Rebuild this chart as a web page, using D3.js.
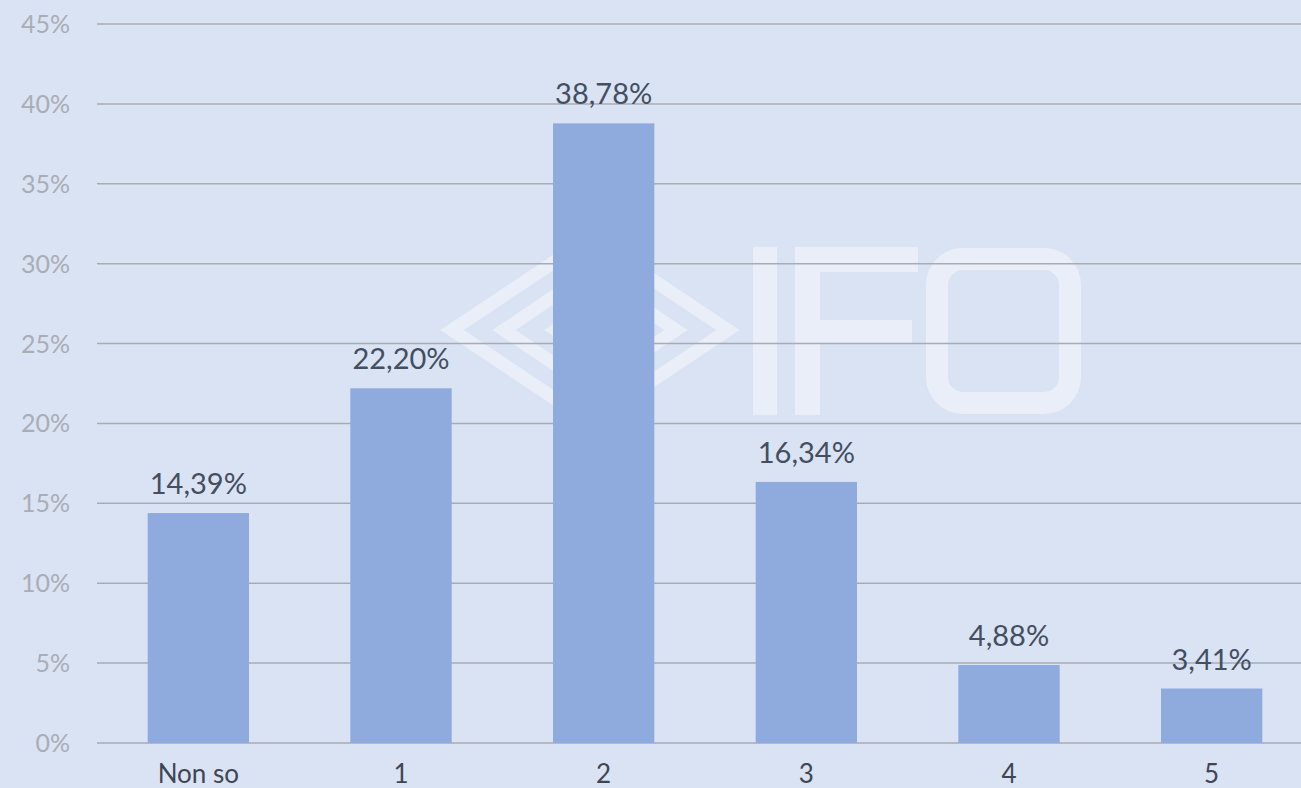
<!DOCTYPE html>
<html>
<head>
<meta charset="utf-8">
<script src="https://cdn.jsdelivr.net/npm/d3@7"></script>
<style>
  html, body { margin: 0; padding: 0; background: #dae3f3; overflow: hidden; }
  svg { display: block; }
</style>
</head>
<body>
<script>
// chart data
var categories = ["Non so", "1", "2", "3", "4", "5"];
var values = [14.39, 22.20, 38.78, 16.34, 4.88, 3.41];
var tickValues = [0, 5, 10, 15, 20, 25, 30, 35, 40, 45];

var width = 1301
  , height = 788
  , plotLeft = 97
  , plotTop = 24
  , plotBottom = 743;

var svg = d3.select("body").append("svg")
    .attr("width", width)
    .attr("height", height);

svg.append("rect")
    .attr("width", width)
    .attr("height", height)
    .attr("fill", "#dae3f3");

// scales
var x = d3.scaleBand()
    .domain(categories)
    .range([plotLeft, plotLeft + 1216])
    .paddingInner(0.5)
    .paddingOuter(0.25);

var y = d3.scaleLinear()
    .domain([0, 45])
    .range([plotBottom, plotTop]);

// watermark logo, drawn behind everything
var wm = svg.append("g")
    .attr("fill", "none")
    .attr("stroke", "#ffffff")
    .attr("stroke-opacity", 0.4);

var cx = 590, cy = 330;
[[138, 92], [86, 58], [34, 23]].forEach(function(r){
  wm.append("path")
    .attr("stroke-width", 13)
    .attr("d", "M" + (cx - r[0]) + "," + cy + "L" + cx + "," + (cy - r[1]) +
               "L" + (cx + r[0]) + "," + cy + "L" + cx + "," + (cy + r[1]) + "Z");
});

var letters = svg.append("g")
    .attr("fill", "#ffffff")
    .attr("fill-opacity", 0.4);
// I
letters.append("rect").attr("x", 753).attr("y", 247).attr("width", 24).attr("height", 168);
// F
letters.append("rect").attr("x", 795).attr("y", 247).attr("width", 25).attr("height", 168);
letters.append("rect").attr("x", 820).attr("y", 247).attr("width", 98).attr("height", 25);
letters.append("rect").attr("x", 820).attr("y", 320).attr("width", 92).attr("height", 23);
// O
wm.append("rect")
    .attr("x", 937).attr("y", 259).attr("width", 133).attr("height", 144)
    .attr("rx", 26)
    .attr("stroke-width", 22);

// gridlines and y labels
svg.append("g")
  .selectAll("line")
  .data(tickValues)
 .enter().append("line")
    .attr("x1", plotLeft)
    .attr("x2", width)
    .attr("y1", function(d){ return y(d); })
    .attr("y2", function(d){ return y(d); })
    .attr("stroke", "#a7abb3")
    .attr("stroke-width", 1.5);

svg.append("g")
  .selectAll("text")
  .data(tickValues)
 .enter().append("text")
    .attr("x", 70)
    .attr("y", function(d){ return y(d) + 9; })
    .attr("text-anchor", "end")
    .attr("font-family", "Lato, sans-serif")
    .attr("font-size", 25)
    .attr("fill", "#a9adb6")
    .text(function(d){ return d + "%"; });

// bars
svg.append("g")
  .selectAll("rect")
  .data(values)
 .enter().append("rect")
    .attr("x", function(d, i){ return x(categories[i]); })
    .attr("y", function(d){ return y(d); })
    .attr("width", x.bandwidth())
    .attr("height", function(d){ return plotBottom - y(d); })
    .attr("fill", "#8faadc");

// value labels, italian decimal comma
var fmt = d3.formatLocale({ decimal: ",", thousands: ".", grouping: [3], currency: ["", "€"] }).format(".2f");
svg.append("g")
  .selectAll("text")
  .data(values)
 .enter().append("text")
    .attr("x", function(d, i){ return x(categories[i]) + x.bandwidth() / 2; })
    .attr("y", function(d){ return y(d) - 19; })
    .attr("text-anchor", "middle")
    .attr("font-family", "Lato, sans-serif")
    .attr("font-size", 29)
    .attr("fill", "#434e61")
    .text(function(d){ return fmt(d) + "%"; });

// category labels
svg.append("g")
  .selectAll("text")
  .data(categories)
 .enter().append("text")
    .attr("x", function(d){ return x(d) + x.bandwidth() / 2; })
    .attr("y", 783)
    .attr("text-anchor", "middle")
    .attr("font-family", "Lato, sans-serif")
    .attr("font-size", 26)
    .attr("fill", "#3f4653")
    .text(function(d){ return d; });
</script>
</body>
</html>
